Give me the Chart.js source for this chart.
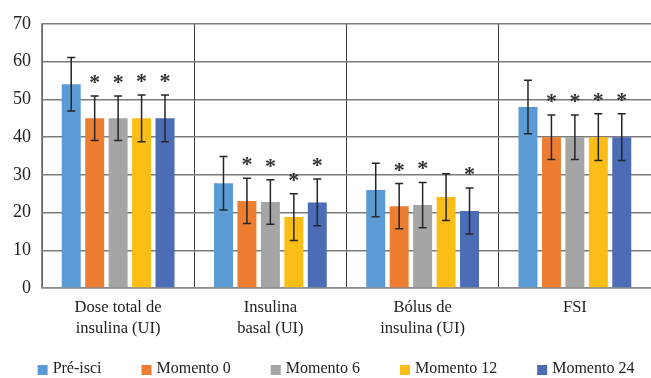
<!DOCTYPE html>
<html>
<head>
<meta charset="utf-8">
<script src="https://cdn.jsdelivr.net/npm/chart.js@4/dist/chart.umd.min.js"></script>
<style>
  html, body { margin: 0; padding: 0; background: #ffffff; }
  canvas { display: block; }
</style>
</head>
<body>
<canvas id="chart" width="651" height="378"></canvas>
<script>
// Categories (two-line axis labels)
const categories = [
  ["Dose total de", "insulina (UI)"],
  ["Insulina", "basal (UI)"],
  ["Bólus de", "insulina (UI)"],
  ["FSI"]
];
const seriesNames = ["Pré-isci", "Momento 0", "Momento 6", "Momento 12", "Momento 24"];

// Means
const preIsci    = [54.0, 27.8, 26.0, 48.0];
const momento0   = [45.0, 23.1, 21.7, 40.0];
const momento6   = [45.0, 22.8, 22.0, 40.0];
const momento12  = [45.0, 18.8, 24.1, 40.0];
const momento24  = [45.0, 22.7, 20.4, 40.0];

// Standard deviations (error bars)
const sdPreIsci   = [7.1, 7.1, 7.1, 7.1];
const sdMomento0  = [5.9, 6.0, 6.0, 5.9];
const sdMomento6  = [5.9, 5.9, 6.0, 5.9];
const sdMomento12 = [6.2, 6.2, 6.2, 6.2];
const sdMomento24 = [6.2, 6.2, 6.1, 6.2];

// Significance versus Pré-isci (1 = marked with an asterisk)
const sigPreIsci   = [0, 0, 0, 0];
const sigMomento0  = [1, 1, 1, 1];
const sigMomento6  = [1, 1, 1, 1];
const sigMomento12 = [1, 1, 0, 1];
const sigMomento24 = [1, 1, 1, 1];

// Value axis
const yMin = 0, yMax = 70, yStep = 10;

const colors = ["#5B9BD5", "#ED7D31", "#A5A5A5", "#FBBE16", "#4C6DB5"];
const means = [preIsci, momento0, momento6, momento12, momento24];
const sds = [sdPreIsci, sdMomento0, sdMomento6, sdMomento12, sdMomento24];
const sigs = [sigPreIsci, sigMomento0, sigMomento6, sigMomento12, sigMomento24];

const serif = "'Liberation Serif', 'Times New Roman', serif";

// Error bars with caps, plus an asterisk above significant bars
const errorBarPlugin = {
  id: "errorBars",
  afterDatasetsDraw(chart) {
    const ctx = chart.ctx;
    const y = chart.scales.y;
    chart.data.datasets.forEach((ds, i) => {
      const meta = chart.getDatasetMeta(i);
      meta.data.forEach((bar, j) => {
        const v = ds.data[j];
        const sd = ds.sd[j];
        const top = y.getPixelForValue(v + sd);
        const bot = y.getPixelForValue(v - sd);
        const x = bar.x;
        const cap = 4;
        ctx.save();
        ctx.strokeStyle = "#262626";
        ctx.lineWidth = 1.5;
        ctx.beginPath();
        ctx.moveTo(x, top); ctx.lineTo(x, bot);
        ctx.moveTo(x - cap, top); ctx.lineTo(x + cap, top);
        ctx.moveTo(x - cap, bot); ctx.lineTo(x + cap, bot);
        ctx.stroke();
        if (ds.sig[j]) {
          ctx.fillStyle = "#333333";
          ctx.font = "bold 22px " + serif;
          ctx.textAlign = "center";
          ctx.textBaseline = "alphabetic";
          ctx.fillText("*", x, top - 7);
        }
        ctx.restore();
      });
    });
  }
};

// Single-row legend under the axis labels, with wider spacing between entries
const legendRowPlugin = {
  id: "legendRow",
  afterDraw(chart, args, opts) {
    const ctx = chart.ctx;
    const box = opts.box, textGap = opts.textGap, itemGap = opts.itemGap;
    ctx.save();
    ctx.font = opts.fontSize + "px " + serif;
    ctx.textBaseline = "middle";
    ctx.textAlign = "left";
    const items = chart.data.datasets.map(ds => ({
      label: ds.label,
      color: ds.backgroundColor,
      w: box + textGap + ctx.measureText(ds.label).width
    }));
    const total = items.reduce((s, it) => s + it.w, 0) + itemGap * (items.length - 1);
    const center = chart.width / 2 + chart.chartArea.left / 4;
    let x = center - total / 2;
    const yMid = chart.height - opts.bottomOffset;
    items.forEach(it => {
      ctx.fillStyle = it.color;
      ctx.fillRect(x, yMid - box / 2 + 1, box, box);
      ctx.fillStyle = "#222222";
      ctx.fillText(it.label, x + box + textGap, yMid);
      x += it.w + itemGap;
    });
    ctx.restore();
  }
};

new Chart(document.getElementById("chart"), {
  type: "bar",
  data: {
    labels: categories,
    datasets: seriesNames.map((name, i) => ({
      label: name,
      data: means[i],
      sd: sds[i],
      sig: sigs[i],
      backgroundColor: colors[i],
      borderWidth: 0,
      categoryPercentage: 0.77,
      barPercentage: 0.81
    }))
  },
  options: {
    responsive: false,
    animation: false,
    devicePixelRatio: 1,
    layout: { padding: { top: 24, left: 0, right: 0, bottom: 40 } },
    plugins: {
      tooltip: { enabled: false },
      legend: { display: false },
      legendRow: { box: 10, textGap: 5, itemGap: 40, fontSize: 16, bottomOffset: 9 }
    },
    scales: {
      x: {
        grid: {
          offset: true,
          drawTicks: false,
          color: "#3a3a3a",
          lineWidth: 1
        },
        border: { display: true, color: "#8c8c8c", width: 1.5 },
        ticks: {
          padding: 10,
          color: "#222222",
          font: { family: serif, size: 16.5, lineHeight: 1.22 },
          maxRotation: 0
        },
        afterFit(scale) { scale.height = 50; }
      },
      y: {
        min: yMin,
        max: yMax,
        grid: { drawTicks: false, color: "#7a7a7a", lineWidth: 1.5 },
        border: { display: true, color: "#8c8c8c", width: 1.5 },
        ticks: {
          stepSize: yStep,
          padding: 11,
          color: "#222222",
          font: { family: serif, size: 18 }
        },
        afterFit(scale) { scale.width = 42; }
      }
    }
  },
  plugins: [errorBarPlugin, legendRowPlugin]
});
</script>
</body>
</html>
